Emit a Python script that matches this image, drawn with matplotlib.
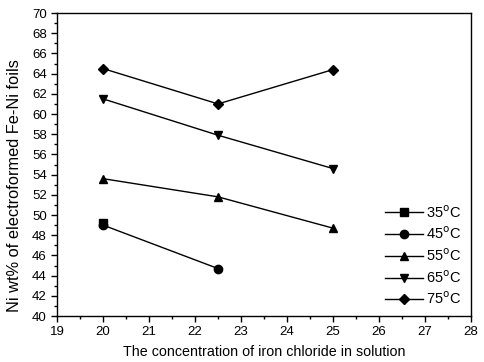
import matplotlib
matplotlib.use("Agg")
import matplotlib.pyplot as plt
from matplotlib.ticker import MultipleLocator

plt.rcParams['font.family'] = ['Liberation Sans', 'DejaVu Sans']

# data
conc = [20, 22.5, 25]
t35 = [49.2]
t45 = [49.0, 44.7]
t55 = [53.6, 51.8, 48.7]
t65 = [61.5, 57.9, 54.6]
t75 = [64.5, 61.0, 64.4]

series = [
    ("35$^{\\mathrm{o}}$C", t35, 's'),
    ("45$^{\\mathrm{o}}$C", t45, 'o'),
    ("55$^{\\mathrm{o}}$C", t55, '^'),
    ("65$^{\\mathrm{o}}$C", t65, 'v'),
    ("75$^{\\mathrm{o}}$C", t75, 'D'),
]

fig = plt.figure(figsize=(4.84, 3.62), dpi=100)
ax = fig.add_axes([0.118, 0.127, 0.855, 0.837])

for label, vals, mk in series:
    ms = 5 if mk == 'D' else 6
    ax.plot(conc[:len(vals)], vals, color='k', lw=1.0, marker=mk, ms=ms, label=label)

ax.set_xlim(19, 28)
ax.set_ylim(40, 70)
ax.xaxis.set_major_locator(MultipleLocator(1))
ax.xaxis.set_minor_locator(MultipleLocator(0.5))
ax.yaxis.set_major_locator(MultipleLocator(2))
ax.yaxis.set_minor_locator(MultipleLocator(1))
ax.tick_params(which='both', direction='out', labelsize=9.5, width=1.0)
ax.tick_params(which='major', length=4)
ax.tick_params(which='minor', length=2)
for s in ax.spines.values():
    s.set_linewidth(1.0)

ax.set_xlabel('The concentration of iron chloride in solution', fontsize=10.3, labelpad=5)
ax.set_ylabel('Ni wt% of electroformed Fe-Ni foils', fontsize=11.8, labelpad=3)
ax.yaxis.set_label_coords(-0.085, 0.43)

ax.legend(loc='lower right', bbox_to_anchor=(1.0, -0.005), frameon=False, fontsize=10.5,
          handlelength=2.6, labelspacing=0.35, handletextpad=0.2, borderpad=0.2)

fig.savefig('out.png', dpi=100)
